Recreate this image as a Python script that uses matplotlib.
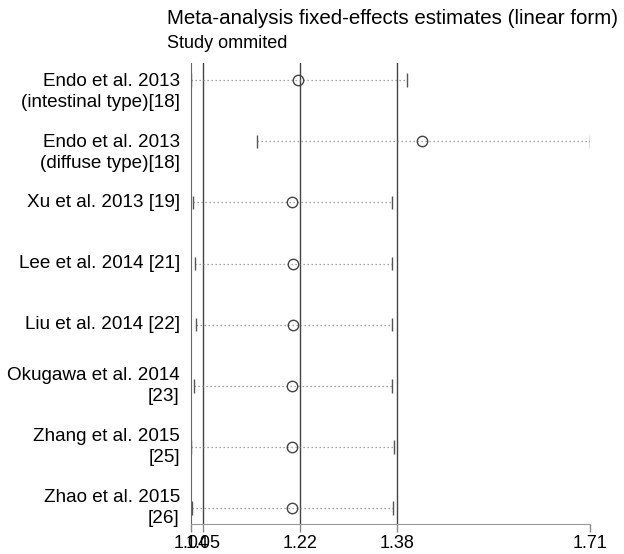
import matplotlib
matplotlib.use('Agg')
import matplotlib.pyplot as plt
import numpy as np

plt.rcParams['font.family'] = ['Liberation Sans', 'DejaVu Sans']

studies = [
    'Endo et al. 2013\n(intestinal type)[18]',
    'Endo et al. 2013\n(diffuse type)[18]',
    'Xu et al. 2013 [19]',
    'Lee et al. 2014 [21]',
    'Liu et al. 2014 [22]',
    'Okugawa et al. 2014\n[23]',
    'Zhang et al. 2015\n[25]',
    'Zhao et al. 2015\n[26]',
]
estimate = [1.2197, 1.4274, 1.2091, 1.2108, 1.2113, 1.2101, 1.2101, 1.2096]
lower = [1.0400, 1.1503, 1.0439, 1.0467, 1.0479, 1.0445, 1.0408, 1.0422]
upper = [1.4022, 1.7100, 1.3775, 1.3775, 1.3775, 1.3775, 1.3809, 1.3792]

# overall estimate with its CI
overall = [1.060, 1.223, 1.386]
tick_vals = [1.040, 1.060, 1.223, 1.386, 1.710]
tick_labels = ['1.04', '1.05', '1.22', '1.38', '1.71']

fig = plt.figure(figsize=(6.24, 5.54), dpi=100)
ax = fig.add_axes([0.306, 0.0542, 0.6395, 0.832])

y = np.arange(len(studies))
ax.hlines(y, lower, upper, colors='#888888', linestyles=(0, (1, 2.2)), linewidth=0.9)
ax.vlines(lower, y - 0.11, y + 0.11, colors='#555555', linewidth=1)
ax.vlines(upper, y - 0.11, y + 0.11, colors='#555555', linewidth=1)
ax.plot(estimate, y, 'o', markersize=7.5, markerfacecolor='none',
        markeredgecolor='#444444', markeredgewidth=1, zorder=3)

for v in overall:
    ax.axvline(v, color='#444444', linewidth=1, zorder=1)

ax.set_xlim(tick_vals[0], tick_vals[-1])
ax.set_ylim(len(studies) - 1 + 0.26, -0.28)

ax.set_yticks([])
ax.set_xticks(tick_vals)
ax.set_xticklabels(tick_labels, fontsize=13)
ax.tick_params(axis='x', length=6, width=1, color='#888888', pad=2)
for s in ['top', 'right']:
    ax.spines[s].set_visible(False)
ax.spines['left'].set_color('#666666')
ax.spines['bottom'].set_color('#999999')

for i, name in enumerate(studies):
    shift = 0.19 if name.startswith('Endo') else 0.0
    ax.text(-0.028, i + shift, name, transform=ax.get_yaxis_transform(),
            ha='right', va='center', fontsize=13.6, linespacing=1.32)

fig.text(167 / 624, 1 - 18 / 554, 'Meta-analysis fixed-effects estimates (linear form)',
         fontsize=14.8, ha='left', va='center')
fig.text(167 / 624, 1 - 44 / 554, 'Study ommited', fontsize=13, ha='left', va='center')

fig.savefig('out.png', dpi=100)
